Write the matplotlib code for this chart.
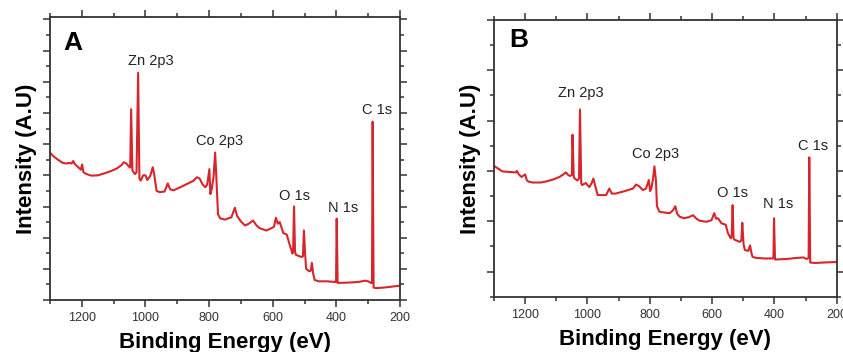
import matplotlib
matplotlib.use("Agg")
import matplotlib.pyplot as plt
from matplotlib.ticker import MultipleLocator

plt.rcParams['font.family'] = ['Liberation Sans', 'DejaVu Sans']

# ---- Panel A data (binding energy eV, intensity a.u.) ----
energy_a = [1300, 1290, 1275, 1260, 1250, 1240, 1232, 1227, 1222, 1210, 1203, 1199, 1195, 1185,
            1170, 1150, 1130, 1110, 1090, 1075, 1068, 1060, 1052, 1048, 1045, 1041, 1033, 1028,
            1023, 1019, 1015, 1007, 1000, 994, 985, 977, 972, 965, 955, 940, 930, 922, 912, 890,
            870, 850, 838, 830, 820, 812, 806, 799, 796, 792, 786, 781, 777, 772, 765, 750, 740,
            730, 719, 712, 700, 687, 675, 662, 650, 640, 620, 605, 596, 590, 584, 578, 567, 556,
            546, 538, 536, 533, 530, 527, 510, 505, 502, 498, 495, 485, 480, 477, 473, 468, 455,
            430, 405, 401, 399, 396, 390, 360, 330, 310, 300, 292, 288, 286, 283, 275, 250, 225, 200]
intensity_a = [4.73, 4.62, 4.50, 4.40, 4.38, 4.40, 4.38, 4.46, 4.36, 4.25, 4.18, 4.35, 4.10, 4.04,
               3.99, 4.00, 4.06, 4.13, 4.22, 4.33, 4.42, 4.38, 4.28, 4.25, 6.12, 4.15, 4.04, 4.10,
               7.29, 3.90, 3.83, 4.00, 4.00, 3.85, 3.98, 4.26, 4.00, 3.50, 3.46, 3.48, 3.74, 3.55,
               3.52, 3.62, 3.72, 3.82, 3.94, 3.90, 3.70, 3.62, 3.70, 4.20, 3.40, 3.55, 3.95, 4.73,
               3.90, 2.75, 2.62, 2.58, 2.62, 2.65, 2.96, 2.70, 2.52, 2.39, 2.45, 2.55, 2.38, 2.30,
               2.23, 2.30, 2.35, 2.64, 2.45, 2.50, 2.15, 2.10, 1.75, 1.49, 1.55, 3.00, 1.55, 1.45,
               1.38, 1.40, 2.23, 1.45, 1.00, 0.92, 0.95, 1.19, 0.85, 0.64, 0.60, 0.60, 0.58, 0.58,
               2.61, 0.55, 0.55, 0.56, 0.58, 0.62, 0.60, 0.55, 0.55, 5.72, 0.40, 0.38, 0.40, 0.43, 0.46]

# ---- Panel B data ----
energy_b = [1300, 1285, 1273, 1250, 1230, 1227, 1220, 1212, 1200, 1195, 1190, 1176, 1150, 1133,
            1110, 1090, 1080, 1069, 1062, 1056, 1050, 1048, 1044, 1041, 1032, 1027, 1024, 1020,
            1017, 1005, 1000, 994, 987, 981, 975, 967, 955, 940, 930, 922, 910, 880, 854, 844,
            835, 822, 812, 803, 799, 795, 790, 785, 780, 777, 769, 750, 736, 725, 718, 712, 704,
            690, 675, 661, 650, 640, 618, 602, 593, 587, 581, 570, 556, 549, 540, 537, 534, 531,
            527, 511, 506, 503, 499, 495, 484, 478, 474, 470, 457, 430, 406, 403, 401, 398, 395,
            360, 330, 307, 297, 290, 288, 285, 270, 240, 200]
intensity_b = [2.10, 2.04, 1.99, 1.98, 1.97, 2.00, 1.93, 1.88, 1.93, 1.82, 1.79, 1.77, 1.77, 1.79,
               1.83, 1.88, 1.92, 1.97, 1.92, 1.90, 1.92, 2.72, 1.88, 1.85, 1.81, 1.85, 3.22, 1.75,
               1.72, 1.76, 1.72, 1.68, 1.75, 1.85, 1.70, 1.52, 1.52, 1.52, 1.65, 1.55, 1.55, 1.60,
               1.65, 1.73, 1.70, 1.62, 1.65, 1.82, 1.60, 1.65, 1.82, 2.09, 1.80, 1.30, 1.19, 1.17,
               1.16, 1.22, 1.30, 1.15, 1.09, 1.06, 1.08, 1.12, 1.05, 1.01, 0.99, 1.02, 1.16, 1.05,
               1.06, 0.96, 0.93, 0.76, 0.66, 0.70, 1.32, 0.66, 0.63, 0.59, 0.62, 0.97, 0.55, 0.43,
               0.41, 0.52, 0.38, 0.29, 0.27, 0.26, 0.26, 0.27, 1.06, 0.24, 0.24, 0.25, 0.27, 0.28,
               0.25, 0.27, 2.27, 0.18, 0.17, 0.18, 0.19]

peak_labels = ['Zn 2p3', 'Co 2p3', 'O 1s', 'N 1s', 'C 1s']
label_x_a = [984, 766, 533, 378, 273]
label_y_a = [7.68, 5.10, 3.35, 2.96, 6.09]
label_x_b = [1021, 782, 533, 388, 277]
label_y_b = [3.55, 2.34, 1.57, 1.34, 2.50]

xticks = [1200, 1000, 800, 600, 400, 200]

RED = '#d7262b'
SPINE = '#333333'

fig = plt.figure(figsize=(8.43, 3.52), dpi=100)
axA = fig.add_axes([0.0593, 0.1477, 0.4152, 0.804])
axB = fig.add_axes([0.586, 0.1571, 0.4065, 0.786])


def style(ax, ylim, letter, lx, ly):
    ax.set_xlim(1300, 200)
    ax.set_ylim(*ylim)
    ax.set_xticks(xticks)
    ax.xaxis.set_minor_locator(MultipleLocator(100))
    ax.yaxis.set_major_locator(MultipleLocator(1))
    ax.yaxis.set_minor_locator(MultipleLocator(0.5))
    ax.tick_params(which='both', direction='out', top=True, right=True,
                   color=SPINE, width=1.1, labelleft=False, labelsize=9, labelcolor='#333333')
    ax.tick_params(which='major', length=5)
    ax.tick_params(which='minor', length=3)
    for s in ax.spines.values():
        s.set_color(SPINE)
        s.set_linewidth(1.3)
    ax.set_xlabel('Binding Energy (eV)', fontsize=16, fontweight='bold', labelpad=6)
    ax.set_ylabel('Intensity (A.U)', fontsize=16, fontweight='bold', labelpad=4)
    ax.text(lx, ly, letter, fontsize=19, fontweight='bold', ha='center', va='center')


axA.plot(energy_a, intensity_a, color=RED, lw=1.5)
style(axA, (0, 9.08), 'A', 1227, 8.24)
for t, x, y in zip(peak_labels, label_x_a, label_y_a):
    axA.text(x, y, t, fontsize=10.5, ha='center', va='center', color='#222222')

axB.plot(energy_b, intensity_b, color=RED, lw=1.5)
style(axB, (-0.5, 5.0), 'B', 1219, 4.61)
for t, x, y in zip(peak_labels, label_x_b, label_y_b):
    axB.text(x, y, t, fontsize=10.5, ha='center', va='center', color='#222222')

fig.savefig('out.png', dpi=100)
